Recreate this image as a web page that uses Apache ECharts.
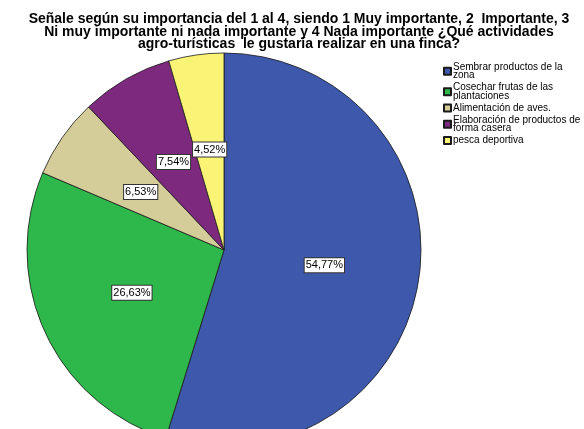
<!DOCTYPE html>
<html>
<head>
<meta charset="utf-8">
<script src="https://cdn.jsdelivr.net/npm/echarts@6/dist/echarts.min.js"></script>
<style>
  html, body { margin: 0; padding: 0; background: #fff; }
  #chart { width: 584px; height: 429px; }
</style>
</head>
<body>
<div id="chart"></div>
<script>
// actividades y porcentajes
var categories = [
  'Sembrar productos de la\nzona',
  'Cosechar frutas de las\nplantaciones',
  'Alimentación de aves.',
  'Elaboración de productos de\nforma casera',
  'pesca deportiva'
];
var percents = [54.77, 26.63, 6.53, 7.54, 4.52];
var colors = ['#3E58AB', '#2EB84B', '#D5CD99', '#7D297D', '#FAF476'];

var chart = echarts.init(document.getElementById('chart'));

chart.setOption({
  backgroundColor: '#fff',
  animation: false,
  title: {
    text: 'Señale según su importancia del 1 al 4, siendo 1 Muy importante, 2  Importante, 3\nNi muy importante ni nada importante y 4 Nada importante ¿Qué actividades\nagro-turísticas  le gustaría realizar en una finca?',
    left: 294,
    top: 8,
    textAlign: 'center',
    textStyle: {
      fontFamily: 'Liberation Sans, Arial, sans-serif',
      fontSize: 14,
      fontWeight: 'bold',
      lineHeight: 12.5,
      color: '#000'
    }
  },
  legend: {
    orient: 'vertical',
    left: 438,
    top: 57,
    itemWidth: 7,
    itemHeight: 7,
    itemGap: 2,
    icon: 'rect',
    textStyle: {
      fontFamily: 'Liberation Sans, Arial, sans-serif',
      fontSize: 10,
      lineHeight: 8.5,
      color: '#000',
      padding: [0, 0, 0, -3]
    },
    data: categories
  },
  series: [{
    type: 'pie',
    center: [224, 250],
    radius: 197,
    startAngle: 90,
    clockwise: true,
    avoidLabelOverlap: false,
    itemStyle: {
      borderColor: '#1a1a1a',
      borderWidth: 0.8
    },
    label: {
      show: true,
      position: 'inside',
      formatter: function (p) {
        return p.value.toFixed(2).replace('.', ',') + '%';
      },
      fontFamily: 'Liberation Sans, Arial, sans-serif',
      fontSize: 11,
      color: '#000',
      backgroundColor: '#fff',
      borderColor: '#333',
      borderWidth: 1,
      padding: [2, 1, 1, 1]
    },
    labelLine: { show: false },
    emphasis: { disabled: true },
    data: categories.map(function (c, i) {
      return { name: c, value: percents[i], itemStyle: { color: colors[i] } };
    })
  }]
});
</script>
</body>
</html>
